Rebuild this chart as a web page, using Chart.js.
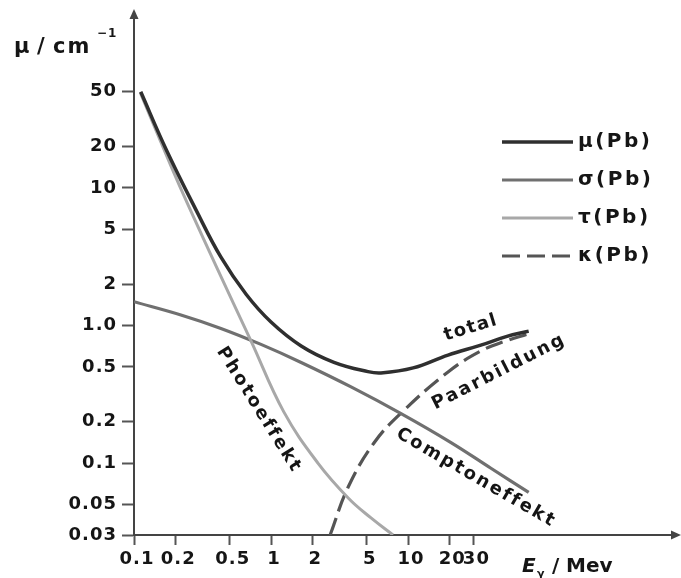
<!DOCTYPE html>
<html>
<head>
<meta charset="utf-8">
<script src="https://cdn.jsdelivr.net/npm/chart.js@4.4.0/dist/chart.umd.min.js"></script>
<style>
    html, body { margin: 0; padding: 0; background: #fff; }
</style>
</head>
<body>
<canvas id="pbChart" width="681" height="578"></canvas>
<script>
// photon energy in MeV, attenuation in 1/cm
const muEnergy = [0.112, 0.171, 0.284, 0.43, 0.66, 1.0, 1.66, 2.88, 5.1, 6.35, 10.9, 19.6, 34, 52, 76];
const muValue = [50, 19.2, 6.9, 3.15, 1.68, 1.06, 0.71, 0.54, 0.462, 0.452, 0.492, 0.61, 0.72, 0.83, 0.91];

const sigmaEnergy = [0.1, 0.22, 0.431, 0.845, 1.66, 3.84, 8.9, 20.6, 40.3, 76];
const sigmaValue = [1.49, 1.194, 0.953, 0.729, 0.539, 0.358, 0.229, 0.141, 0.0917, 0.0612];

const tauEnergy = [0.111, 0.157, 0.22, 0.403, 0.714, 1.24, 2.2, 3.66, 5.37, 7.77];
const tauValue = [49.5, 21.6, 9.84, 2.62, 0.773, 0.2355, 0.1, 0.0558, 0.0399, 0.03];

const kappaEnergy = [2.7, 3.66, 5.64, 8.9, 19.6, 34.1, 51.9, 75];
const kappaValue = [0.03, 0.067, 0.14, 0.231, 0.46, 0.654, 0.773, 0.868];

const seriesNames = ['μ(Pb)', 'σ(Pb)', 'τ(Pb)', 'κ(Pb)'];

const xTickValues = [0.1, 0.2, 0.5, 1, 2, 5, 10, 20, 30];
const xTickLabels = ['0.1', '0.2', '0.5', '1', '2', '5', '10', '20', '30'];
const yTickValues = [0.03, 0.05, 0.1, 0.2, 0.5, 1, 2, 5, 10, 20, 50];
const yTickLabels = ['0.03', '0.05', '0.1', '0.2', '0.5', '1.0', '2', '5', '10', '20', '50'];

// curve captions, placed in data coordinates
const captions = [
    { text: 'total', x: 28.8, y: 0.96, angle: -17 },
    { text: 'Paarbildung', x: 46.2, y: 0.46, angle: -27 },
    { text: 'Comptoneffekt', x: 31.4, y: 0.078, angle: 30 },
    { text: 'Photoeffekt', x: 0.817, y: 0.243, angle: 58 }
];

const FONT = 'DejaVu Sans';
const INK = '#151515';

function toPoints(xs, ys) {
    return xs.map((x, i) => ({ x: x, y: ys[i] }));
}

function bold(size) {
    return 'bold ' + size + 'px "' + FONT + '"';
}

const decorations = {
    id: 'decorations',
    beforeDraw(chart) {
        chart.ctx.letterSpacing = '1px';
    },
    afterDraw(chart) {
        const ctx = chart.ctx;
        const area = chart.chartArea;
        const xs = chart.scales.x;
        const ys = chart.scales.y;

        ctx.save();
        // arrow heads on both axes
        ctx.fillStyle = '#444';
        ctx.beginPath();
        ctx.moveTo(area.left, area.top - 9);
        ctx.lineTo(area.left - 4.5, area.top + 1);
        ctx.lineTo(area.left + 4.5, area.top + 1);
        ctx.closePath();
        ctx.fill();
        ctx.beginPath();
        ctx.moveTo(area.right + 9, area.bottom);
        ctx.lineTo(area.right - 1, area.bottom - 4.5);
        ctx.lineTo(area.right - 1, area.bottom + 4.5);
        ctx.closePath();
        ctx.fill();

        // axis titles
        ctx.fillStyle = INK;
        ctx.textBaseline = 'alphabetic';
        ctx.textAlign = 'left';
        ctx.letterSpacing = '2px';
        ctx.font = bold(21);
        ctx.fillText('μ', 14, 53);
        ctx.fillText('/', 37, 53);
        ctx.fillText('cm', 53, 53);
        ctx.letterSpacing = '1px';
        ctx.font = bold(12);
        ctx.fillText('−1', 97, 37);

        ctx.letterSpacing = '0px';
        ctx.font = 'italic ' + bold(20);
        ctx.fillText('E', 522, 572);
        ctx.font = bold(11);
        ctx.fillText('γ', 537, 577);
        ctx.font = bold(20);
        ctx.fillText('/', 552, 572);
        ctx.fillText('Mev', 566, 572);

        // legend
        ctx.letterSpacing = '2.5px';
        ctx.font = bold(20);
        ctx.textBaseline = 'middle';
        chart.data.datasets.forEach((ds, i) => {
            const y = 142 + i * 38;
            ctx.strokeStyle = ds.borderColor;
            ctx.lineWidth = ds.borderWidth;
            ctx.setLineDash(ds.borderDash || []);
            ctx.beginPath();
            ctx.moveTo(502, y);
            ctx.lineTo(573, y);
            ctx.stroke();
            ctx.fillStyle = INK;
            ctx.fillText(ds.label, 578, y);
        });
        ctx.setLineDash([]);

        // rotated captions
        ctx.font = bold(18);
        ctx.textAlign = 'center';
        captions.forEach(c => {
            ctx.save();
            ctx.translate(xs.getPixelForValue(c.x), ys.getPixelForValue(c.y));
            ctx.rotate(c.angle * Math.PI / 180);
            ctx.letterSpacing = c.text === 'total' ? '1.5px' : '2.3px';
            ctx.fillText(c.text, 0, 0);
            ctx.restore();
        });
        ctx.restore();
    }
};

const ctx = document.getElementById('pbChart').getContext('2d');

new Chart(ctx, {
    type: 'line',
    data: {
        datasets: [
            {
                label: seriesNames[0],
                data: toPoints(muEnergy, muValue),
                borderColor: '#2f2f2f',
                borderWidth: 3.5,
                order: 0
            },
            {
                label: seriesNames[1],
                data: toPoints(sigmaEnergy, sigmaValue),
                borderColor: '#707070',
                borderWidth: 3.2,
                order: 2
            },
            {
                label: seriesNames[2],
                data: toPoints(tauEnergy, tauValue),
                borderColor: '#a8a8a8',
                borderWidth: 3,
                order: 1
            },
            {
                label: seriesNames[3],
                data: toPoints(kappaEnergy, kappaValue),
                borderColor: '#555555',
                borderWidth: 3.2,
                borderDash: [18, 7],
                order: 3
            }
        ]
    },
    options: {
        responsive: false,
        animation: false,
        devicePixelRatio: 1,
        layout: { padding: { top: 18, right: 9, left: 0, bottom: 0 } },
        elements: {
            point: { radius: 0, hoverRadius: 0 },
            line: { fill: false, tension: 0.4, capBezierPoints: true }
        },
        plugins: {
            legend: { display: false },
            tooltip: { enabled: false }
        },
        scales: {
            x: {
                type: 'logarithmic',
                min: 0.1,
                max: 845,
                afterBuildTicks: (axis) => {
                    axis.ticks = xTickValues.map(v => ({ value: v }));
                },
                afterFit: (axis) => { axis.height = 43; },
                border: { display: true, color: '#444', width: 2 },
                grid: { drawOnChartArea: false, drawTicks: true, tickLength: 10, tickWidth: 2, color: '#555' },
                ticks: {
                    autoSkip: false,
                    maxRotation: 0,
                    padding: 4,
                    labelOffset: 3,
                    color: INK,
                    font: { family: FONT, size: 18, weight: 'bold' },
                    callback: (value) => xTickLabels[xTickValues.indexOf(value)]
                }
            },
            y: {
                type: 'logarithmic',
                min: 0.03,
                max: 172,
                afterBuildTicks: (axis) => {
                    axis.ticks = yTickValues.map(v => ({ value: v }));
                },
                afterFit: (axis) => { axis.width = 134; },
                border: { display: true, color: '#444', width: 2 },
                grid: { drawOnChartArea: false, drawTicks: true, tickLength: 12, tickWidth: 2, color: '#555' },
                ticks: {
                    autoSkip: false,
                    padding: 5,
                    color: INK,
                    font: { family: FONT, size: 18, weight: 'bold' },
                    callback: (value) => yTickLabels[yTickValues.indexOf(value)]
                }
            }
        }
    },
    plugins: [decorations]
});
</script>
</body>
</html>
